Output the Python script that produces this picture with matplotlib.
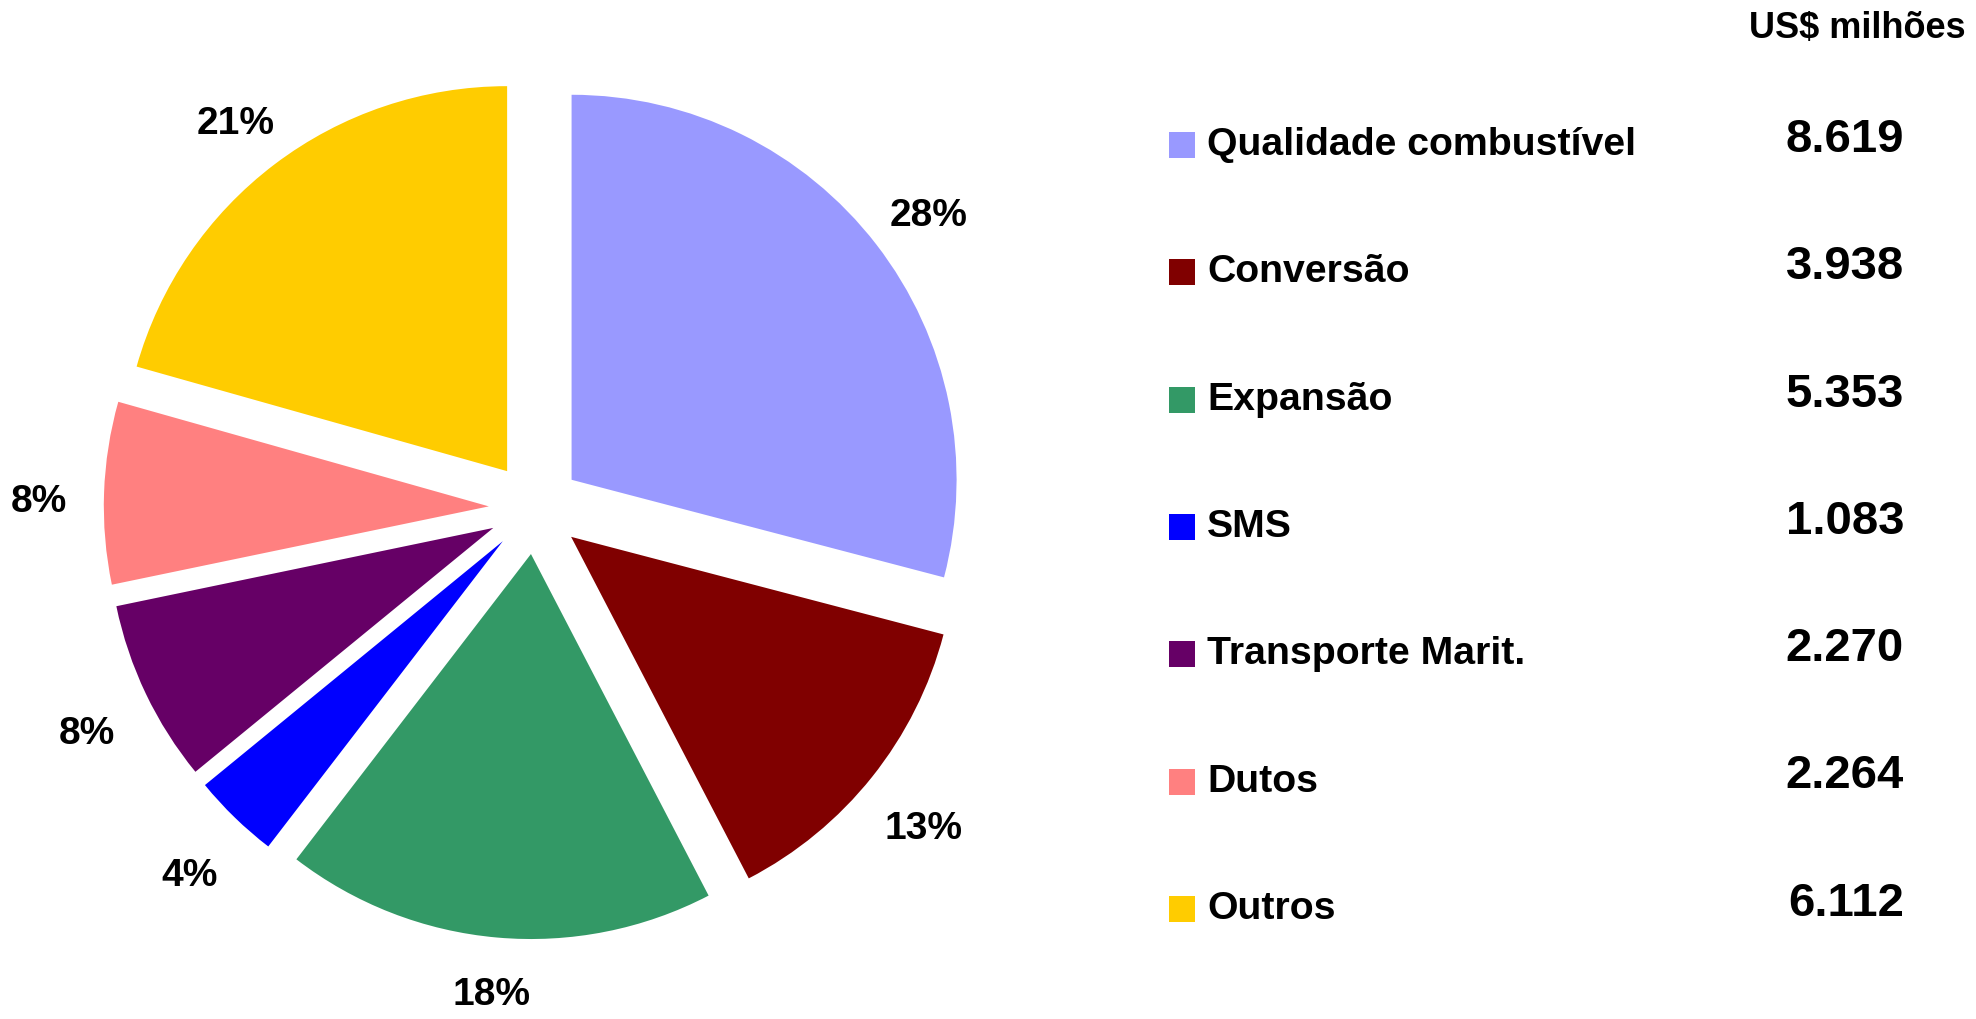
import matplotlib
matplotlib.use('Agg')
import matplotlib.pyplot as plt
from matplotlib.patches import Rectangle

plt.rcParams['font.family'] = ['Liberation Sans', 'DejaVu Sans']
plt.rcParams['font.weight'] = 'bold'

# Dados (US$ milhões)
categorias = ['Qualidade combustível', 'Conversão', 'Expansão', 'SMS',
              'Transporte Marit.', 'Dutos', 'Outros']
valores = [8619, 3938, 5353, 1083, 2270, 2264, 6112]
valores_txt = ['8.619', '3.938', '5.353', '1.083', '2.270', '2.264', '6.112']
rotulos_pct = ['28%', '13%', '18%', '4%', '8%', '8%', '21%']
cores = ['#9999FF', '#800000', '#339966', '#0000FF', '#660066', '#FF8080', '#FFCC00']

W, H = 1976, 1019
fig = plt.figure(figsize=(W / 100, H / 100), dpi=100)

# Pizza: centro em (535, 508) px, raio ~385 px
lado = 2 * 1.3 * 385
ax = fig.add_axes([(535 - lado / 2) / W, (H - 508 - lado / 2) / H, lado / W, lado / H])
wedges, textos = ax.pie(valores, colors=cores, startangle=90, counterclock=False,
                        explode=[0.12] * len(valores), labels=rotulos_pct,
                        labeldistance=1.17, radius=1,
                        wedgeprops=dict(linewidth=0),
                        textprops=dict(fontsize=28, fontweight='bold', color='black'))
for t in textos:
    t.set_ha('center')
    t.set_va('center')
    t.set_clip_on(False)
    x, y = t.get_position()
    # compensa a descida da fonte, sem sair da figura em baixo
    t.set_position((x, max(y - 0.03, -1.265)))
ax.set_xlim(-1.3, 1.3)
ax.set_ylim(-1.3, 1.3)
ax.axis('off')

# Legenda e valores à direita (coordenadas em pixels)
leg = fig.add_axes([0, 0, 1, 1])
leg.set_xlim(0, W)
leg.set_ylim(H, 0)
leg.axis('off')

leg.text(1966, 38, 'US$ milhões', fontsize=26, fontweight='bold',
         ha='right', va='baseline')

passo = 127.3
for i, (cat, val, cor) in enumerate(zip(categorias, valores_txt, cores)):
    base = 155 + passo * i
    leg.add_patch(Rectangle((1169, base - 23), 26, 26, color=cor, linewidth=0))
    leg.text(1207, base, cat, fontsize=28.3, fontweight='bold', ha='left', va='baseline')
    leg.text(1904, base - 3, val, fontsize=34, fontweight='bold', ha='right', va='baseline')

fig.savefig('out.png', dpi=100, facecolor='white')
